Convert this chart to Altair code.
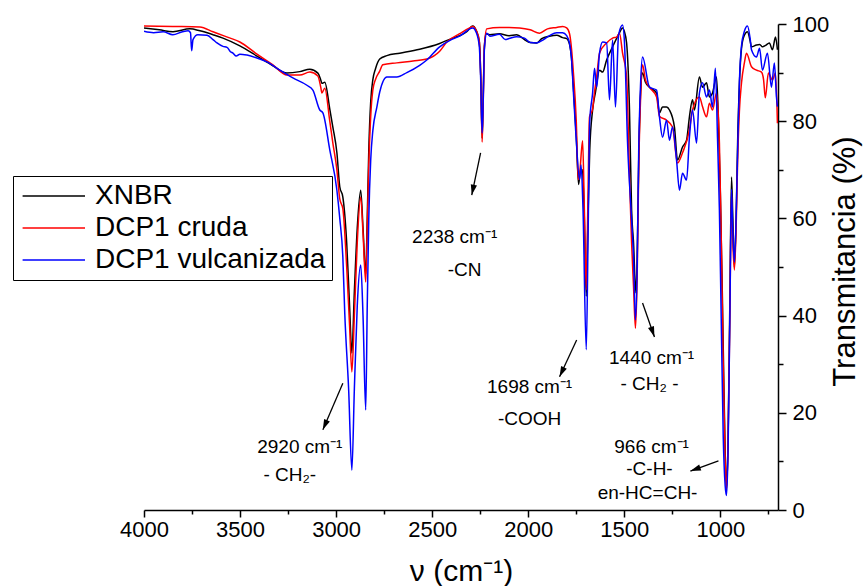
import altair as alt
import pandas as pd
import numpy as np

# ---------------- data ----------------
series_names = ["XNBR", "DCP1 cruda", "DCP1 vulcanizada"]
series_colors = ["#000000", "#ff0000", "#0000ff"]

xnbr_wn = [4000, 3920, 3849, 3761, 3709, 3641, 3589, 3501, 3412, 3329, 3256, 3189, 3137, 3095, 3080, 3074,
           3059, 3033, 3017, 2996, 2981, 2965, 2945, 2930, 2918, 2905, 2890, 2872, 2860, 2846, 2838, 2830,
           2820, 2809, 2795, 2773, 2736, 2669, 2565, 2461, 2400, 2357, 2320, 2289, 2270, 2255, 2247, 2240,
           2235, 2228, 2220, 2200, 2150, 2100, 2060, 2020, 1990, 1956, 1930, 1890, 1852, 1821, 1800, 1785,
           1775, 1765, 1750, 1738, 1728, 1718, 1708, 1698, 1690, 1680, 1665, 1650, 1629, 1613, 1592, 1561,
           1530, 1509, 1500, 1488, 1473, 1462, 1452, 1440, 1433, 1425, 1415, 1405, 1390, 1369, 1332, 1317,
           1301, 1280, 1265, 1239, 1223, 1197, 1176, 1161, 1145, 1135, 1109, 1093, 1072, 1057, 1041, 1020,
           1010, 1000, 990, 980, 968, 960, 950, 942, 935, 927, 918, 910, 900, 890, 875, 859, 845, 838, 812,
           795, 781, 765, 745, 729, 713, 703]
xnbr_t = [99.2, 98.8, 98.4, 99.0, 98.6, 97.8, 97.1, 95.5, 93.4, 91.4, 89.9, 90.2, 90.7, 89.9, 88.5, 87.8,
          88.0, 82.5, 78.8, 73.5, 66.5, 64.4, 55.0, 42.0, 32.3, 45.0, 58.0, 65.8, 58.0, 48.5, 60.0, 74.0,
          84.0, 88.5, 90.8, 92.8, 93.5, 94.0, 94.8, 96.0, 97.0, 97.6, 98.4, 99.6, 98.6, 96.5, 89.0, 76.5,
          84.0, 95.5, 98.0, 97.8, 98.0, 97.6, 97.8, 96.8, 96.2, 96.1, 97.0, 97.5, 97.7, 97.2, 97.0, 95.8,
          93.0, 87.0, 77.0, 67.0, 70.0, 70.0, 60.0, 44.0, 58.0, 74.0, 82.3, 86.0, 90.5, 90.1, 92.6, 95.3,
          97.8, 99.2, 98.5, 96.1, 82.3, 61.7, 55.0, 44.7, 52.0, 72.0, 86.0, 89.9, 88.0, 87.0, 85.8, 81.7,
          82.9, 82.9, 82.3, 78.8, 72.0, 74.7, 76.1, 80.9, 84.4, 82.3, 89.1, 87.0, 87.9, 85.0, 85.8, 89.1,
          80.0, 65.0, 45.0, 22.0, 4.5, 14.0, 45.0, 68.5, 60.0, 50.0, 60.0, 76.0, 88.5, 95.0, 97.7, 98.4,
          96.5, 95.3, 95.7, 95.8, 95.3, 95.6, 96.1, 94.7, 97.3, 94.7]

cruda_wn = [4000, 3850, 3709, 3641, 3580, 3501, 3412, 3329, 3256, 3189, 3137, 3095, 3080, 3074, 3059, 3033,
            3017, 2996, 2981, 2965, 2945, 2930, 2918, 2905, 2890, 2872, 2860, 2846, 2838, 2830, 2820, 2809,
            2795, 2773, 2757, 2684, 2600, 2528, 2461, 2424, 2357, 2305, 2289, 2270, 2255, 2247, 2240, 2235,
            2228, 2216, 2150, 2100, 2045, 1990, 1941, 1900, 1852, 1821, 1800, 1785, 1775, 1765, 1750, 1740,
            1733, 1717, 1708, 1698, 1690, 1681, 1665, 1655, 1644, 1629, 1592, 1561, 1540, 1525, 1509, 1488,
            1473, 1462, 1452, 1442, 1433, 1425, 1415, 1405, 1390, 1369, 1332, 1317, 1280, 1249, 1223, 1197,
            1161, 1145, 1109, 1093, 1072, 1057, 1041, 1020, 1005, 995, 985, 975, 968, 960, 950, 942, 935,
            927, 918, 910, 901, 890, 875, 864, 838, 812, 786, 775, 766, 750, 729, 713, 703]
cruda_t = [99.6, 99.5, 99.4, 98.4, 97.5, 96.3, 93.8, 91.6, 89.5, 89.5, 90.1, 89.3, 87.0, 85.8, 86.8, 80.0,
           75.5, 70.0, 64.0, 62.0, 50.0, 38.0, 28.4, 40.0, 55.0, 64.4, 57.0, 46.9, 58.0, 71.0, 81.0, 86.4,
           88.6, 90.3, 91.6, 92.0, 92.4, 92.8, 94.4, 96.3, 98.0, 99.2, 99.5, 98.6, 96.5, 89.0, 75.7, 83.0,
           95.5, 99.0, 99.3, 99.3, 99.2, 98.8, 98.1, 99.0, 99.3, 99.5, 99.2, 98.0, 95.0, 90.0, 80.0, 68.0,
           69.0, 76.0, 62.0, 45.3, 62.0, 80.9, 82.5, 86.0, 89.1, 94.0, 96.1, 97.1, 97.3, 98.1, 94.0, 89.1,
           68.5, 55.0, 46.0, 37.4, 48.0, 70.0, 85.0, 91.6, 88.5, 87.0, 85.0, 81.0, 80.2, 78.8, 71.4, 73.5,
           78.2, 82.3, 85.0, 83.0, 80.9, 83.7, 82.3, 85.8, 75.5, 55.0, 30.0, 10.0, 4.0, 14.0, 42.0, 65.4,
           55.0, 49.4, 58.0, 72.0, 82.0, 87.9, 92.0, 94.0, 91.2, 90.5, 90.1, 88.5, 84.8, 89.9, 88.5, 89.9,
           79.6]

vulc_wn = [4000, 3950, 3900, 3850, 3800, 3770, 3758, 3752, 3745, 3720, 3672, 3641, 3620, 3589, 3568, 3550,
           3537, 3520, 3501, 3464, 3412, 3360, 3293, 3225, 3152, 3121, 3085, 3069, 3033, 2996, 2981, 2965,
           2955, 2935, 2918, 2905, 2890, 2872, 2860, 2846, 2838, 2830, 2820, 2809, 2788, 2773, 2736, 2684,
           2632, 2565, 2528, 2461, 2400, 2357, 2289, 2270, 2255, 2247, 2240, 2235, 2228, 2216, 2200, 2150,
           2120, 2100, 2060, 2020, 1990, 1956, 1920, 1889, 1852, 1821, 1800, 1785, 1775, 1765, 1750, 1733,
           1725, 1715, 1698, 1688, 1680, 1665, 1655, 1644, 1629, 1613, 1592, 1577, 1561, 1546, 1530, 1509,
           1499, 1483, 1462, 1452, 1442, 1433, 1425, 1415, 1405, 1369, 1332, 1317, 1301, 1280, 1265, 1249,
           1228, 1213, 1197, 1176, 1161, 1145, 1124, 1109, 1093, 1072, 1057, 1041, 1026, 1015, 1005, 995,
           985, 975, 968, 960, 950, 942, 935, 927, 918, 910, 901, 890, 875, 859, 845, 838, 812, 796, 781,
           755, 734, 719, 708, 703]
vulc_t = [98.5, 98.2, 98.4, 97.8, 98.4, 98.6, 98.2, 94.5, 96.8, 97.8, 97.7, 96.8, 96.1, 95.4, 95.2, 94.3,
          94.0, 93.4, 93.8, 93.6, 93.0, 92.2, 90.5, 88.9, 87.4, 86.4, 82.3, 81.7, 74.1, 65.8, 60.0, 52.0,
          40.5, 25.0, 8.2, 25.0, 42.0, 50.4, 40.0, 20.6, 42.0, 60.0, 72.0, 78.0, 82.9, 86.0, 89.1, 89.1,
          90.0, 91.5, 92.6, 95.3, 96.8, 97.5, 99.2, 98.2, 95.5, 88.0, 77.6, 83.0, 95.0, 98.1, 97.5, 97.9,
          96.8, 97.0, 97.4, 97.1, 96.2, 96.1, 96.8, 97.6, 98.2, 98.2, 97.6, 96.0, 93.0, 86.0, 76.0, 68.0,
          71.0, 62.0, 33.0, 58.0, 80.0, 85.8, 90.9, 87.0, 94.0, 96.3, 96.1, 84.4, 96.7, 82.9, 97.7, 99.8,
          96.1, 75.5, 59.7, 52.0, 39.1, 50.0, 74.0, 88.0, 93.2, 87.0, 86.4, 80.9, 76.7, 80.2, 76.1, 78.8,
          72.0, 65.8, 69.3, 67.9, 76.7, 82.3, 75.5, 85.8, 87.9, 85.0, 86.4, 82.9, 90.9, 76.7, 61.7, 38.0,
          15.0, 5.0, 3.0, 12.0, 42.0, 66.0, 57.0, 51.0, 60.0, 74.0, 88.0, 95.5, 98.5, 99.6, 97.0, 94.7,
          93.2, 95.0, 90.5, 94.0, 87.0, 92.0, 85.0, 83.0]

# annotations (text, wavenumber, transmittance)
note_text = ["2920 cm⁻¹", "- CH₂-", "2238 cm⁻¹", "-CN", "1698 cm⁻¹", "-COOH",
             "1440 cm⁻¹", "- CH₂ -", "966 cm⁻¹", "-C-H-", "en-HC=CH-"]
note_wn = [3189, 3241, 2383, 2331, 1993, 1993, 1358, 1369, 1358, 1369, 1379]
note_t = [13.0, 7.2, 56.2, 49.4, 25.3, 18.7, 31.3, 25.9, 13.0, 8.4, 3.5]

# arrows (tail -> head)
arrow_wn_tail = [2965, 2248, 1748, 1405, 1010]
arrow_t_tail = [26.1, 73.5, 35.0, 42.6, 10.1]
arrow_wn_head = [3069, 2294, 1837, 1343, 1156]
arrow_t_head = [16.5, 64.8, 27.4, 35.6, 8.0]

# ---------------- build tables ----------------
W, H = 634, 486
X_DOM = [4000, 700]
Y_DOM = [0, 100]

rows = []
for name, wn, t in zip(series_names, [xnbr_wn, cruda_wn, vulc_wn], [xnbr_t, cruda_t, vulc_t]):
    for a, b in zip(wn, t):
        rows.append({"wn": a, "T": b, "serie": name})
df = pd.DataFrame(rows)

px_per_wn = W / (X_DOM[0] - X_DOM[1])
px_per_t = H / (Y_DOM[1] - Y_DOM[0])
angles = []
for wt, tt, wh, th in zip(arrow_wn_tail, arrow_t_tail, arrow_wn_head, arrow_t_head):
    dx = -(wh - wt) * px_per_wn
    dy = -(th - tt) * px_per_t
    angles.append(float(np.degrees(np.arctan2(dx, -dy)) % 360))
arrows = pd.DataFrame({"x": arrow_wn_tail, "y": arrow_t_tail, "x2": arrow_wn_head,
                       "y2": arrow_t_head, "angle": angles})
notes = pd.DataFrame({"text": note_text, "x": note_wn, "y": note_t})

FONT = "Liberation Sans"
x_scale = alt.Scale(domain=X_DOM, nice=False, zero=False)
y_scale = alt.Scale(domain=Y_DOM, nice=False, zero=False)

x_axis = alt.Axis(
    values=list(range(4000, 699, -250)),
    labelExpr="datum.value % 500 == 0 ? format(datum.value, 'd') : ''",
    tickSize={"condition": {"test": "datum.value % 500 == 0", "value": 7}, "value": 4},
    grid=False, domainColor="black", domainWidth=1.5, tickColor="black", tickWidth=1.5,
    labelFontSize=22, labelColor="black", labelFont=FONT, labelPadding=2, labelFlush=False,
    labelOverlap=False, titleFontSize=30, titleFont=FONT, titleFontWeight="normal",
    titleColor="black", titleY=61, titleBaseline="middle",
)
y_axis = alt.Axis(
    orient="right",
    values=list(range(0, 101, 10)),
    labelExpr="datum.value % 20 == 0 ? format(datum.value, 'd') : ''",
    tickSize={"condition": {"test": "datum.value % 20 == 0", "value": 8}, "value": 5},
    grid=False, domainColor="black", domainWidth=1.5, tickColor="black", tickWidth=1.5,
    labelFontSize=22, labelColor="black", labelFont=FONT, labelPadding=6, labelFlush=False,
    labelOverlap=False, labelBaseline="middle", titleFontSize=31, titleFont=FONT,
    titleFontWeight="normal", titleColor="black", titleAngle=270,
    titleX=67, titleY=H / 2 - 6, titleBaseline="middle", titleAlign="center",
)

color = alt.Color(
    "serie:N",
    scale=alt.Scale(domain=series_names, range=series_colors),
    legend=alt.Legend(
        title=None, orient="none", legendX=-131, legendY=152,
        symbolType="M-0.8,0L4,0", symbolSize=676, symbolStrokeWidth=1.5,
        labelFontSize=28, labelFont=FONT, labelLimit=0,
        labelColor="black", strokeColor="black", fillColor="white", padding=6,
        rowPadding=4, labelOffset=48,
    ),
)

base = alt.Chart(df).mark_line(strokeWidth=1.5, clip=True, interpolate="monotone").encode(
    x=alt.X("wn:Q", scale=x_scale, axis=x_axis, title="ν (cm⁻¹)"),
    y=alt.Y("T:Q", scale=y_scale, axis=y_axis, title="Transmitancia (%)"),
    color=color,
    order=alt.Order("wn:Q", sort="descending"),
)
line_layers = [base.transform_filter(alt.datum.serie == s) for s in series_names]

arrow_lines = alt.Chart(arrows).mark_rule(color="black", strokeWidth=1.3).encode(
    x=alt.X("x:Q", scale=x_scale), y=alt.Y("y:Q", scale=y_scale), x2="x2:Q", y2="y2:Q"
)
arrow_heads = alt.Chart(arrows).mark_point(
    shape="M0,0L-0.6,2L0.6,2Z", filled=True, color="black", size=110, opacity=1
).encode(
    x=alt.X("x2:Q", scale=x_scale), y=alt.Y("y2:Q", scale=y_scale), angle=alt.Angle("angle:Q", scale=None)
)
texts = alt.Chart(notes).mark_text(
    font=FONT, fontSize=19, color="black", align="center", baseline="middle"
).encode(x=alt.X("x:Q", scale=x_scale), y=alt.Y("y:Q", scale=y_scale), text="text:N")

chart = alt.layer(*line_layers, arrow_lines, arrow_heads, texts).properties(
    width=W, height=H,
    autosize=alt.AutoSizeParams(type="none"),
    padding={"left": 144, "top": 24, "right": 88, "bottom": 76},
).configure(font=FONT, background="white").configure_view(stroke=None)

chart.save("out.html", embed_options={"renderer": "svg", "actions": False})
